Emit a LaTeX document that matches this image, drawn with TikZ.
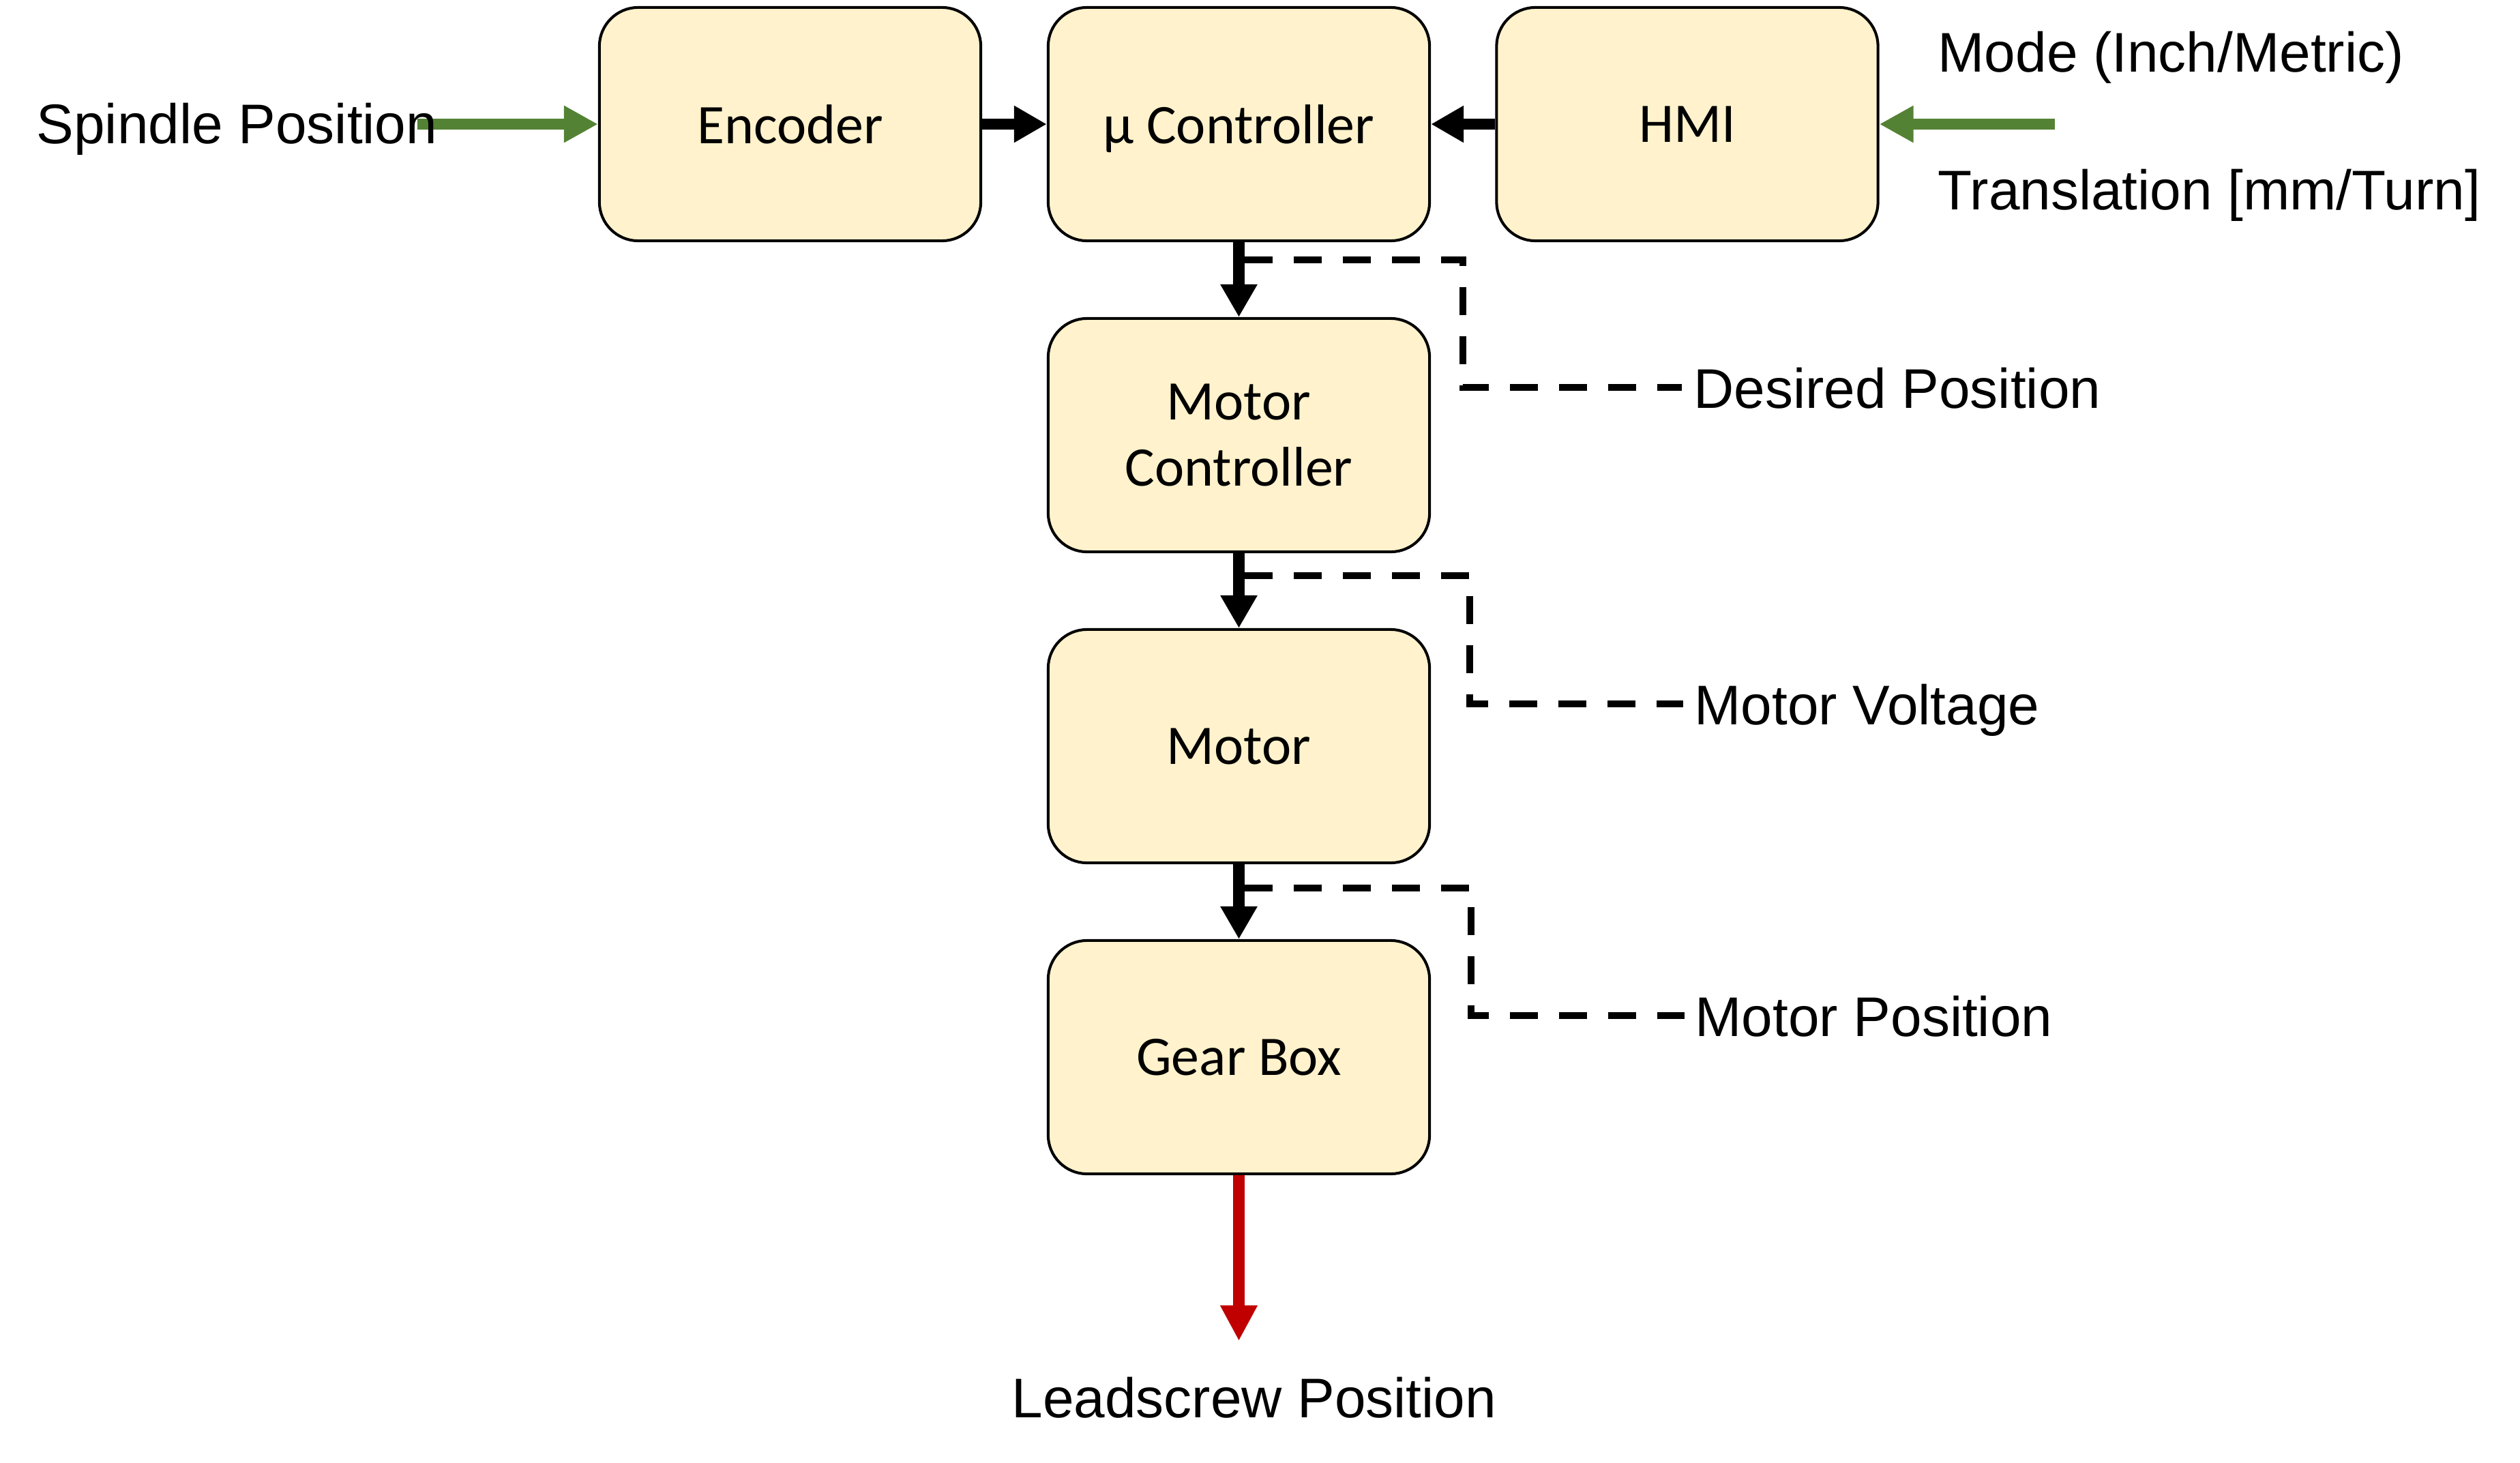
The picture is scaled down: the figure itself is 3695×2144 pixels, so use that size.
\documentclass[tikz,border=0pt]{standalone}
\usepackage{fontspec}
\setmainfont{Liberation Sans}
\newfontfamily\boxfont{Carlito}
\usetikzlibrary{arrows.meta}
\definecolor{boxfill}{HTML}{FFF2CC}
\definecolor{ingreen}{HTML}{548235}
\definecolor{outred}{HTML}{C00000}
\begin{document}
\begin{tikzpicture}[x=0.01cm,y=-0.01cm,
 block/.style={draw=black, line width=1.15pt, fill=boxfill, rounded corners=0.57cm,
   minimum width=5.59cm, minimum height=3.42cm, inner sep=0pt, align=center,
   font=\boxfont\fontsize{23.3}{27.6}\selectfont, text depth=0pt},
 sigtext/.style={inner sep=0pt, font=\fontsize{23.3}{28}\selectfont},
 flow/.style={line width=4.8pt, -{Triangle[length=0.48cm,width=0.51cm]}},
 greenflow/.style={flow, draw=ingreen, -{Triangle[length=0.50cm,width=0.51cm]}},
 redflow/.style={flow, draw=outred, line width=4.6pt, -{Triangle[length=0.52cm,width=0.51cm]}},
 sig/.style={line width=2.6pt, dash pattern=on 0.41cm off 0.31cm}]
\useasboundingbox (0,0) rectangle (3695,2144);

% blocks
\node[block] (enc)   at (1158.5,182) {Encoder};
\node[block] (mu)    at (1816.5,182) {µ Controller};
\node[block] (hmi)   at (2474,182)   {HMI};
\node[block] (mctrl) at (1816.5,638) {Motor\\Controller};
\node[block] (motor) at (1816.5,1094) {Motor};
\node[block] (gear)  at (1816.5,1550) {Gear Box};

% free ends
\coordinate (spin) at (612,182);
\coordinate (hmiin) at (3013,182);
\coordinate (lead) at (1816.5,1966);

% inputs / outputs
\draw[greenflow] (spin) -- (enc.west);
\draw[greenflow] (hmiin) -- (hmi.east);
\draw[redflow] (gear.south) -- (lead);

% main flow
\draw[flow] (enc.east) -- (mu.west);
\draw[flow] (hmi.west) -- (mu.east);
\draw[flow] (mu.south) -- (mctrl.north);
\draw[flow] (mctrl.south) -- (motor.north);
\draw[flow] (motor.south) -- (gear.north);

% signal labels
\node[sigtext, anchor=base west] (spindle) at (53,210) {Spindle Position};
\node[sigtext, anchor=base west] (mode) at (2841,105) {Mode (Inch/Metric)};
\node[sigtext, anchor=base west] (trans) at (2841,307) {Translation [mm/Turn]};
\node[sigtext, anchor=base west] (desired) at (2483,598) {Desired Position};
\node[sigtext, anchor=base west] (volt) at (2484,1062) {Motor Voltage};
\node[sigtext, anchor=base west] (mpos) at (2485,1519) {Motor Position};
\node[sigtext, anchor=base] (leadtxt) at (1839,2078) {Leadscrew Position};

% dashed signal taps
\coordinate (t1) at (1825,381);  \coordinate (c1) at (2145,568);  \coordinate (e1) at (2466,568);
\coordinate (t2) at (1825,844);  \coordinate (c2) at (2155,1032); \coordinate (e2) at (2468,1032);
\coordinate (t3) at (1825,1302); \coordinate (c3) at (2157,1489); \coordinate (e3) at (2470,1489);
\draw[sig] (t1) -| (c1) -- (e1);
\draw[sig] (t2) -| (c2) -- (e2);
\draw[sig] (t3) -| (c3) -- (e3);
\end{tikzpicture}
\end{document}
